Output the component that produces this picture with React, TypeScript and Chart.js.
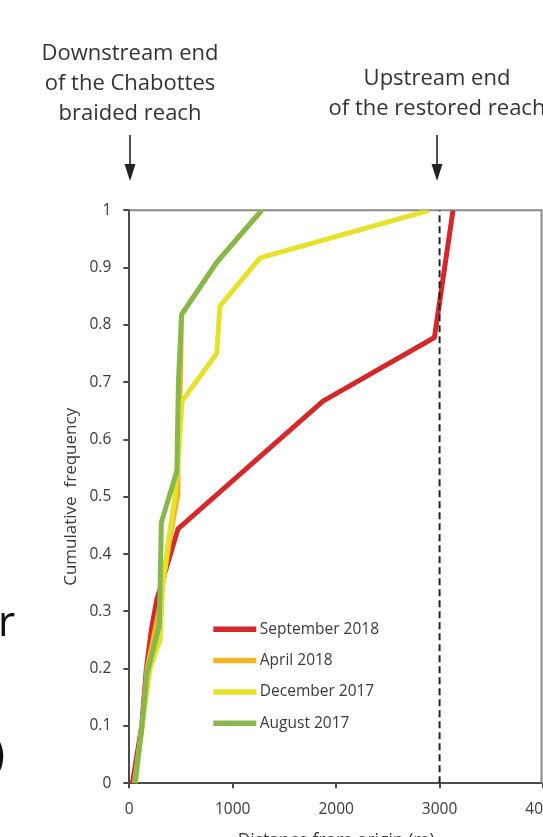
import React, { useEffect, useRef } from "react";
import { Chart, registerables } from "chart.js";

Chart.register(...registerables);

// ---- data ----
const seriesLabels = ["September 2018", "April 2018", "December 2017", "August 2017"];
const seriesColors = ["#d3292b", "#f0b622", "#e6e12a", "#87b84d"];

const sep2018X = [30, 120, 165, 215, 265, 471, 1873, 2950, 3130];
const sep2018Y = [0, 0.1, 0.2, 0.27, 0.32, 0.444, 0.667, 0.778, 1];

const apr2018X = [50, 125, 172, 285, 395, 465, 470, 495, 505, 845, 1280];
const apr2018Y = [0, 0.1, 0.2, 0.3, 0.43, 0.5, 0.6, 0.7, 0.818, 0.909, 1];

const dec2017X = [60, 110, 200, 297, 326, 393, 440, 480, 510, 845, 877, 1265, 2900];
const dec2017Y = [0, 0.083, 0.2, 0.25, 0.355, 0.44, 0.5, 0.583, 0.667, 0.75, 0.833, 0.917, 1];

const aug2017X = [55, 120, 170, 290, 310, 460, 475, 505, 845, 1280];
const aug2017Y = [0, 0.095, 0.19, 0.275, 0.455, 0.545, 0.7, 0.818, 0.909, 1];

const restoredEndX = [3000, 3000];
const restoredEndY = [0, 1];

const xTickValues = [0, 1000, 2000, 3000, 4000];
const yTickValues = [0, 0.1, 0.2, 0.3, 0.4, 0.5, 0.6, 0.7, 0.8, 0.9, 1];

const xMin = 0;
const xMax = 4000;

const zip = (xs: number[], ys: number[]) => xs.map((x, i) => ({ x, y: ys[i] }));

const FONT = "'Open Sans', 'DejaVu Sans', sans-serif";
const TEXT = "#3a3a3a";
const AXIS = "#4a4a4a";

const boxPlugin = {
  id: "plotBox",
  beforeDatasetsDraw(chart: any) {
    const { ctx, chartArea } = chart;
    ctx.save();
    ctx.strokeStyle = "#8a8a8a";
    ctx.lineWidth = 2;
    ctx.beginPath();
    ctx.moveTo(chartArea.left, chartArea.top);
    ctx.lineTo(chartArea.right - 1.5, chartArea.top);
    ctx.lineTo(chartArea.right - 1.5, chartArea.bottom);
    ctx.stroke();
    ctx.restore();
  },
};

const legendOrder = ["September 2018", "April 2018", "December 2017", "August 2017"];

const legendPlugin = {
  id: "inlineLegend",
  afterDatasetsDraw(chart: any) {
    const { ctx, chartArea } = chart;
    ctx.save();
    const x0 = chartArea.left + 84;
    legendOrder.forEach((label, i) => {
      const ds = chart.data.datasets.find((d: any) => d.label === label);
      if (!ds) return;
      const y = chartArea.top + 419 + i * 31.3;
      ctx.strokeStyle = ds.borderColor;
      ctx.lineWidth = 5.5;
      ctx.lineCap = "butt";
      ctx.beginPath();
      ctx.moveTo(x0, y);
      ctx.lineTo(x0 + 43, y);
      ctx.stroke();
      ctx.fillStyle = TEXT;
      ctx.font = `15.5px ${FONT}`;
      ctx.textBaseline = "middle";
      ctx.textAlign = "left";
      ctx.fillText(label, x0 + 46.5, y);
    });
    ctx.restore();
  },
};

const CANVAS_W = 640;
const CANVAS_H = 870;
const PLOT_LEFT = 129.3;
const PLOT_TOP = 210.3;
const PLOT_RIGHT = 543;
const PLOT_BOTTOM = 783.3;

export default function App() {
  const ref = useRef<HTMLCanvasElement | null>(null);

  useEffect(() => {
    if (!ref.current) return;
    const seriesX = [sep2018X, apr2018X, dec2017X, aug2017X];
    const seriesY = [sep2018Y, apr2018Y, dec2017Y, aug2017Y];
    const drawOrder = [4, 3, 2, 1];
    const datasets: any[] = seriesLabels.map((label, i) => ({
      label,
      data: zip(seriesX[i], seriesY[i]),
      borderColor: seriesColors[i],
      backgroundColor: seriesColors[i],
      borderWidth: 5,
      pointRadius: 0,
      tension: 0,
      fill: false,
      borderJoinStyle: "round",
      order: drawOrder[i],
    }));
    datasets.push({
      label: "restored end",
      data: zip(restoredEndX, restoredEndY),
      borderColor: "#222222",
      borderWidth: 2,
      borderDash: [7, 4],
      pointRadius: 0,
      fill: false,
      order: 0,
    });

    const chart = new Chart(ref.current, {
      type: "line",
      data: { datasets },
      plugins: [boxPlugin, legendPlugin],
      options: {
        responsive: false,
        animation: false,
        devicePixelRatio: 1,
        layout: {
          padding: { left: 0, top: PLOT_TOP, right: CANVAS_W - PLOT_RIGHT, bottom: 0 },
        },
        plugins: {
          legend: { display: false },
          tooltip: { enabled: false },
          title: { display: false },
        },
        scales: {
          x: {
            type: "linear",
            min: xMin,
            max: xMax,
            afterBuildTicks: (scale: any) => {
              scale.ticks = xTickValues.map((v) => ({ value: v }));
            },
            afterFit: (scale: any) => {
              scale.height = CANVAS_H - PLOT_BOTTOM;
            },
            ticks: {
              color: TEXT,
              font: { family: FONT, size: 15.5 },
              padding: 11.5,
              maxRotation: 0,
              autoSkip: false,
              callback: (v: any) => String(v),
            },
            grid: {
              drawOnChartArea: false,
              drawTicks: true,
              tickLength: 5,
              color: AXIS,
              lineWidth: 2,
            },
            border: { display: true, color: AXIS, width: 2 },
            title: {
              display: true,
              text: "Distance from origin (m)",
              color: TEXT,
              font: { family: FONT, size: 17.5 },
              padding: { top: 0, bottom: 18 },
            },
          },
          y: {
            type: "linear",
            min: 0,
            max: 1,
            afterBuildTicks: (scale: any) => {
              scale.ticks = yTickValues.map((v) => ({ value: v }));
            },
            afterFit: (scale: any) => {
              scale.width = PLOT_LEFT;
            },
            ticks: {
              color: TEXT,
              font: { family: FONT, size: 15.5 },
              padding: 12,
              autoSkip: false,
              callback: (v: any) => String(Math.round(Number(v) * 10) / 10),
            },
            grid: {
              drawOnChartArea: false,
              drawTicks: true,
              tickLength: 6,
              color: AXIS,
              lineWidth: 2,
            },
            border: { display: true, color: AXIS, width: 2 },
            title: {
              display: true,
              text: "Cumulative  frequency",
              color: TEXT,
              font: { family: FONT, size: 17 },
              padding: { top: 61, bottom: 0 },
            },
          },
        },
      } as any,
    });
    return () => chart.destroy();
  }, []);

  const annStyle: React.CSSProperties = {
    position: "absolute",
    width: 320,
    textAlign: "center",
    fontFamily: FONT,
    fontSize: 22,
    lineHeight: "30px",
    color: "#333333",
    whiteSpace: "nowrap",
  };

  return (
    <div
      style={{
        position: "fixed",
        left: 0,
        top: 0,
        width: 543,
        height: 837,
        overflow: "hidden",
        background: "#ffffff",
      }}
    >
      <canvas
        ref={ref}
        width={CANVAS_W}
        height={CANVAS_H}
        style={{ position: "absolute", left: 0, top: 0, width: CANVAS_W, height: CANVAS_H }}
      />
      <div style={{ ...annStyle, left: 130 - 160, top: 35.5 }}>
        <div>Downstream end</div>
        <div>of the Chabottes</div>
        <div>braided reach</div>
      </div>
      <div style={{ ...annStyle, left: 437 - 160, top: 60.5 }}>
        <div>Upstream end</div>
        <div>of the restored reach</div>
      </div>
      <svg
        width={543}
        height={837}
        style={{ position: "absolute", left: 0, top: 0, pointerEvents: "none" }}
      >
        <line x1={130} y1={135} x2={130} y2={168} stroke="#222" strokeWidth={1.6} />
        <polygon points="124.5,164 135.5,164 130,181" fill="#222" />
        <line x1={437} y1={135} x2={437} y2={168} stroke="#222" strokeWidth={1.6} />
        <polygon points="431.5,164 442.5,164 437,181" fill="#222" />
      </svg>
      <span
        style={{
          position: "absolute",
          left: -2,
          top: 637 - 47,
          fontFamily: FONT,
          fontSize: 42,
          lineHeight: "60px",
          color: "#111",
        }}
      >
        r
      </span>
      <span
        style={{
          position: "absolute",
          left: -8,
          top: 768 - 47,
          fontFamily: FONT,
          fontSize: 44,
          lineHeight: "60px",
          color: "#111",
        }}
      >
        )
      </span>
    </div>
  );
}
